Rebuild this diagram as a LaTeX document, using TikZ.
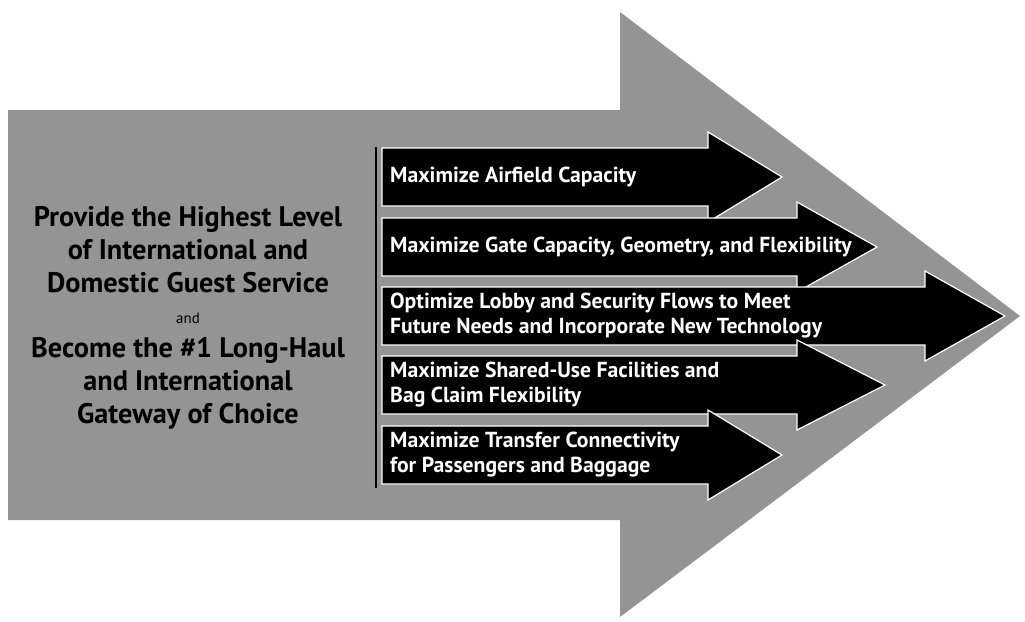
\documentclass[tikz,border=0pt]{standalone}
\usepackage{fontspec}
\setmainfont{PT Sans}
\usetikzlibrary{positioning}

\begin{document}
\begin{tikzpicture}[x=1pt,y=-1pt]
    \useasboundingbox (0,0) rectangle (1025,621);
    \tikzset{goalbox/.style={fill=black,draw=white,line width=1.2pt,line join=miter}}

    % big grey arrow
    \fill[black!42] (8,110) -- (620,110) -- (620,12) -- (1020,316) -- (620,617) -- (620,520) -- (8,520) -- cycle;

    % left text
    \begin{scope}[every node/.style={text=black,align=center,inner sep=0pt}]
        \node[font=\fontsize{15}{18}\selectfont] (and) at (188,318) {and};
        \node[font=\bfseries\fontsize{28.3}{33}\selectfont,above=19pt of and] (goal_a) {Provide the Highest Level\\of International and\\Domestic Guest Service};
        \node[font=\bfseries\fontsize{28.3}{33}\selectfont,below=14pt of and] (goal_b) {Become the \#1 Long-Haul\\and International\\Gateway of Choice};
    \end{scope}

    % divider
    \coordinate (rule_top) at (376,147);
    \coordinate (rule_bot) at (376,488);
    \draw[line width=2.5pt] (rule_top) -- (rule_bot);

    % black arrows
    \begin{scope}[every node/.style={text=white,anchor=west,align=left,inner sep=0pt,font=\bfseries\fontsize{21.7}{25}\selectfont}]
        \foreach \i/\y/\b/\t/\txt in {
            1/177/708/782/{Maximize Airfield Capacity},
            2/247/797/877/{Maximize Gate Capacity, Geometry, and Flexibility},
            3/316/925/1005/{Optimize Lobby and Security Flows to Meet\\Future Needs and Incorporate New Technology},
            4/385/797/885/{Maximize Shared-Use Facilities and\\Bag Claim Flexibility},
            5/455/708/782/{Maximize Transfer Connectivity\\for Passengers and Baggage}} {
            \draw[goalbox] (382,\y-29) -- (\b,\y-29) -- (\b,\y-45) -- (\t,\y) -- (\b,\y+45) -- (\b,\y+29) -- (382,\y+29) -- cycle;
            \node (obj_\i) at (390,\y) {\txt};
        }
    \end{scope}
\end{tikzpicture}
\end{document}
